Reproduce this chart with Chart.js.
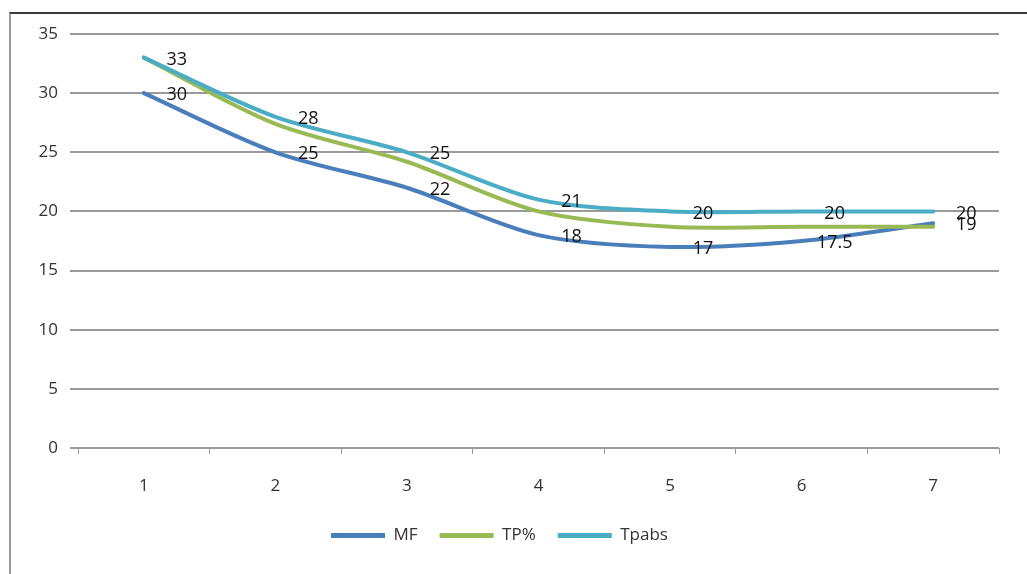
<!DOCTYPE html>
<html>
<head>
<meta charset="utf-8">
<script src="https://cdn.jsdelivr.net/npm/chart.js@4"></script>
<style>
  html, body { margin: 0; padding: 0; background: #fff; }
  #wrap { position: relative; width: 1027px; height: 574px; }
  #frame { position: absolute; left: 9px; top: 12px; right: 0; bottom: 0;
           border-left: 2px solid #9a9a9a; border-top: 2px solid #3a3a3a; }
  canvas { position: absolute; left: 0; top: 0; }
</style>
</head>
<body>
<div id="wrap">
  <div id="frame"></div>
  <canvas id="myChart" width="1027" height="574"></canvas>
</div>
<script>
// categories and series
const categories = ['1', '2', '3', '4', '5', '6', '7'];
const mf = [30, 25, 22, 18, 17, 17.5, 19];
const tpPct = [33, 27.4, 24.2, 20, 18.7, 18.7, 18.7];
const tpabs = [33, 28, 25, 21, 20, 20, 20];
const yTicks = [0, 5, 10, 15, 20, 25, 30, 35];

const FONT = '"Open Sans", "DejaVu Sans", sans-serif';

// draws the value next to each point, like Excel's data labels
const valueLabels = {
  id: 'valueLabels',
  afterDatasetsDraw(chart) {
    const ctx = chart.ctx;
    ctx.save();
    ctx.font = '18px ' + FONT;
    ctx.fillStyle = '#111';
    ctx.textAlign = 'center';
    ctx.textBaseline = 'middle';
    chart.data.datasets.forEach((ds, i) => {
      if (!ds.showValues) return;
      chart.getDatasetMeta(i).data.forEach((pt, j) => {
        ctx.fillText(String(ds.data[j]), pt.x + 33, pt.y + 2);
      });
    });
    ctx.restore();
  }
};

(() => {
  'use strict'

  const ctx = document.getElementById('myChart')
  // eslint-disable-next-line no-unused-vars
  const myChart = new Chart(ctx, {
    type: 'line',
    data: {
      labels: categories,
      datasets: [{
        label: 'MF',
        data: mf,
        borderColor: '#4a7ebb',
        backgroundColor: '#4a7ebb',
        showValues: true,
        order: 3
      }, {
        label: 'TP%',
        data: tpPct,
        borderColor: '#98b954',
        backgroundColor: '#98b954',
        showValues: false,
        order: 2
      }, {
        label: 'Tpabs',
        data: tpabs,
        borderColor: '#4bacc6',
        backgroundColor: '#4bacc6',
        showValues: true,
        order: 1
      }]
    },
    options: {
      responsive: false,
      animation: false,
      layout: { padding: { left: 0, top: 34, right: 28, bottom: 20 } },
      elements: {
        line: { borderWidth: 4, tension: 0.3, borderCapStyle: 'round' },
        point: { radius: 0 }
      },
      scales: {
        x: {
          offset: true,
          grid: { offset: true, drawOnChartArea: false, drawTicks: true, tickLength: 6, color: '#9a9a9a', lineWidth: 1 },
          border: { display: false },
          ticks: { color: '#333', font: { family: FONT, size: 17 }, padding: 22 },
          afterFit(scale) { scale.height = 57; }
        },
        y: {
          min: 0,
          max: 35,
          afterBuildTicks(scale) { scale.ticks = yTicks.map(v => ({ value: v })); },
          grid: { color: '#9a9a9a', lineWidth: 2, tickLength: 8 },
          border: { display: false },
          ticks: { color: '#333', font: { family: FONT, size: 17 }, padding: 12 },
          afterFit(scale) { scale.width = 78; }
        }
      },
      plugins: {
        legend: {
          position: 'bottom',
          labels: {
            color: '#333',
            font: { family: FONT, size: 17 },
            boxWidth: 54,
            boxHeight: 5,
            padding: 22,
            sort: (a, b) => a.datasetIndex - b.datasetIndex,
            generateLabels(chart) {
              const items = Chart.defaults.plugins.legend.labels.generateLabels(chart);
              items.forEach(it => { it.lineWidth = 0; });
              return items;
            }
          }
        },
        tooltip: { enabled: false }
      }
    },
    plugins: [valueLabels]
  })
})()
</script>
</body>
</html>
